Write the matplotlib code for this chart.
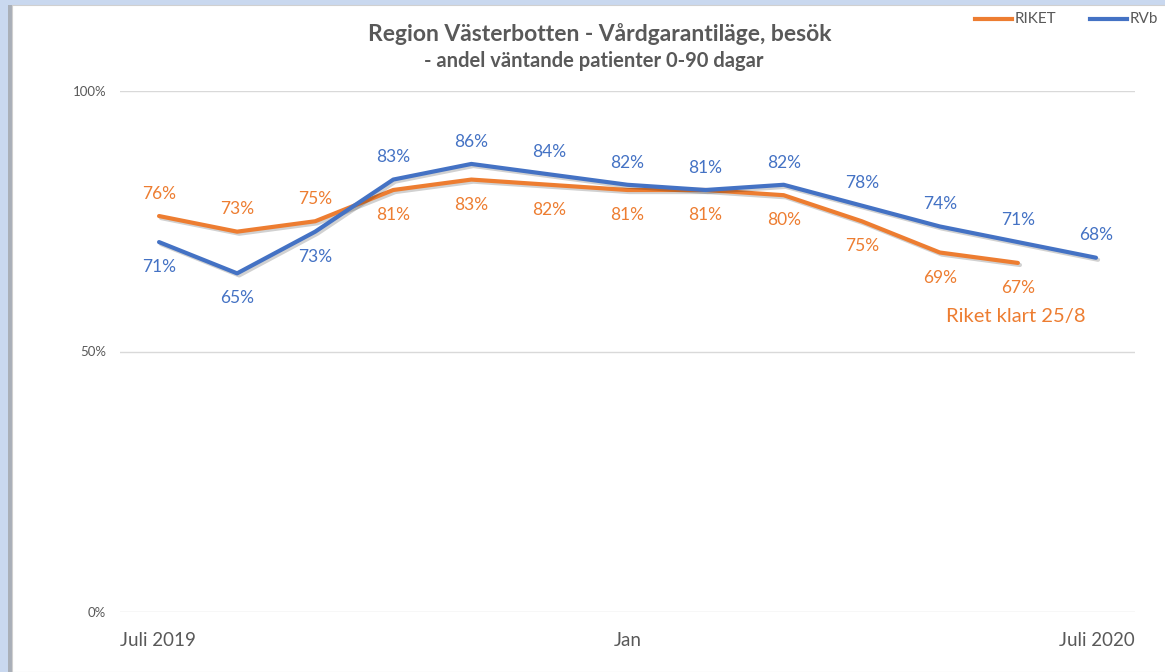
import matplotlib.pyplot as plt
from matplotlib.patches import Rectangle
import matplotlib.patheffects as pe

# --- Data ---
months = ['Jul', 'Aug', 'Sep', 'Okt', 'Nov', 'Dec', 'Jan',
          'Feb', 'Mar', 'Apr', 'Maj', 'Jun', 'Jul']
riket = [76, 73, 75, 81, 83, 82, 81, 81, 80, 75, 69, 67]
rvb = [71, 65, 73, 83, 86, 84, 82, 81, 82, 78, 74, 71, 68]
riket_above = [True, True, True] + [False] * 9
rvb_above = [False, False, False] + [True] * 10

orange = '#ED7D31'
blue = '#4472C4'
grey = '#595959'

plt.rcParams['font.family'] = ['Lato', 'DejaVu Sans']

W, H = 1165, 672
fig = plt.figure(figsize=(W / 100, H / 100), dpi=100)
fig.patch.set_facecolor('#C9D8EF')

# white chart panel with a soft shadow on the left
fig.patches.append(Rectangle((8 / W, 0), 6 / W, 1 - 5 / H, transform=fig.transFigure,
                             facecolor='#A9AFB8', edgecolor='none', zorder=-2))
fig.patches.append(Rectangle((12 / W, 0), 1, 1 - 5 / H, transform=fig.transFigure,
                             facecolor='white', edgecolor='#D0D0D0', lw=0.8, zorder=-1))

ax = fig.add_axes([120 / W, 1 - 612 / H, 1015 / W, 521 / H])
ax.set_facecolor('none')
x = list(range(len(months)))

shadow = [pe.SimpleLineShadow(offset=(1.5, -1.5), alpha=0.18), pe.Normal()]
ax.plot(x[:len(riket)], [v / 100 for v in riket], color=orange, lw=3,
        solid_capstyle='round', path_effects=shadow, zorder=3)
ax.plot(x, [v / 100 for v in rvb], color=blue, lw=3,
        solid_capstyle='round', path_effects=shadow, zorder=4)

for i, v in enumerate(riket):
    off = 16 if riket_above[i] else -18
    ax.annotate(f'{v}%', (i, v / 100), xytext=(0, off), textcoords='offset points',
                ha='center', va='center', fontsize=12.5, color=orange)
for i, v in enumerate(rvb):
    off = 16 if rvb_above[i] else -18
    ax.annotate(f'{v}%', (i, v / 100), xytext=(0, off), textcoords='offset points',
                ha='center', va='center', fontsize=12.5, color=blue)

ax.text(10.97, 0.568, 'Riket klart 25/8', color=orange, fontsize=14.5,
        ha='center', va='center')

ax.set_xlim(-0.5, 12.5)
ax.set_ylim(0, 1)
ax.set_yticks([0, 0.5, 1])
ax.set_yticklabels(['0%', '50%', '100%'], fontsize=9.5, color=grey)
ax.yaxis.grid(True, color='#D9D9D9', lw=1)
ax.set_axisbelow(True)
ax.tick_params(axis='y', length=0, pad=10)
ax.tick_params(axis='x', length=0)
ax.set_xticks([])
for s in ax.spines.values():
    s.set_visible(False)

# category labels
ax.text(-0.5, -0.055, 'Juli 2019', transform=ax.get_xaxis_transform(),
        ha='left', va='center', fontsize=13.5, color=grey)
ax.text(6, -0.055, 'Jan', transform=ax.get_xaxis_transform(),
        ha='center', va='center', fontsize=13.5, color=grey)
ax.text(12.5, -0.055, 'Juli 2020', transform=ax.get_xaxis_transform(),
        ha='right', va='center', fontsize=13.5, color=grey)

# titles
fig.text(600 / W, 1 - 34 / H, 'Region Västerbotten - Vårdgarantiläge, besök',
         ha='center', va='center', fontsize=16.5, fontweight='bold', color=grey)
fig.text(594 / W, 1 - 61 / H, '- andel väntande patienter 0-90 dagar',
         ha='center', va='center', fontsize=14.5, fontweight='bold', color=grey)

# legend
for x0, col, lab in [(975, orange, 'RIKET'), (1090, blue, 'RVb')]:
    fig.add_artist(plt.Line2D([x0 / W, (x0 + 37) / W], [1 - 19 / H, 1 - 19 / H],
                              color=col, lw=3, transform=fig.transFigure))
    fig.text((x0 + 40) / W, 1 - 19 / H, lab, ha='left', va='center',
             fontsize=11, color=grey)

fig.savefig('out.png', dpi=100, facecolor=fig.get_facecolor())
